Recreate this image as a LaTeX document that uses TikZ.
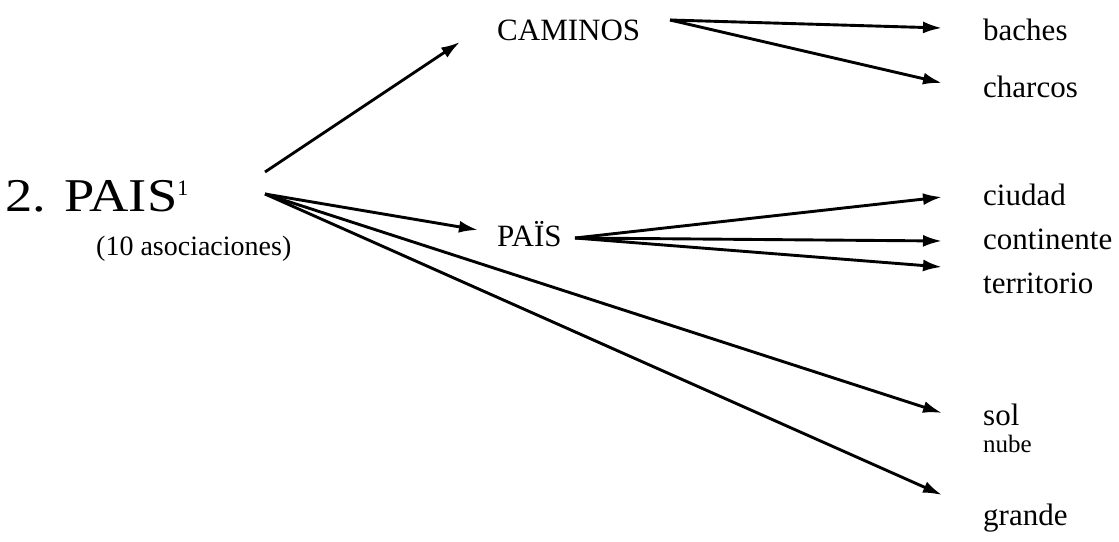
\documentclass[tikz,border=0pt]{standalone}
\usepackage{fontspec}
\setmainfont{Liberation Serif}
\usetikzlibrary{arrows.meta}
\begin{document}
\begin{tikzpicture}[x=1pt,y=-1pt,
  lbl/.style={anchor=base west,inner sep=0pt,font=\fontsize{31}{31}\selectfont},
  small/.style={anchor=base west,inner sep=0pt,font=\fontsize{25}{25}\selectfont},
  arr/.style={line width=2.9pt,-{Latex[length=19pt,width=12pt]}}]
\useasboundingbox (0,0) rectangle (1119,541);
% nodes
\node[anchor=base west,inner sep=0pt,font=\fontsize{47}{47}\selectfont] (pais) at (5,211)
  {\scalebox{1.16}[1]{2. PAIS}{\fontsize{22}{22}\selectfont\raisebox{16pt}{1}}};
\node[anchor=base west,inner sep=0pt,font=\fontsize{28}{28}\selectfont] (asoc) at (96,255) {(10 asociaciones)};
\node[lbl] (caminos) at (497,40) {CAMINOS};
\node[lbl] (pais2) at (497,246) {PAÏS};
\node[lbl] (baches) at (983,40) {baches};
\node[lbl] (charcos) at (983,97) {charcos};
\node[lbl] (ciudad) at (983,205) {ciudad};
\node[lbl] (continente) at (983,249) {continente};
\node[lbl] (territorio) at (983,293) {territorio};
\node[lbl] (sol) at (983,425) {sol};
\node[small] (nube) at (983,452) {nube};
\node[lbl] (grande) at (983,525) {grande};
% fan origins and tips
\coordinate (s1) at (265,172);
\coordinate (s2) at (265,194);
\coordinate (s3) at (670,20);
\coordinate (s4) at (575,238);
\coordinate (tcam) at (460,42);
\coordinate (tpais) at (478,230);
\coordinate (tbach) at (942,28);
\coordinate (tchar) at (942,83);
\coordinate (tciu) at (942,197);
\coordinate (tcon) at (942,241);
\coordinate (tter) at (942,267);
\coordinate (tsol) at (942,413);
\coordinate (tgra) at (942,495);
% connectors
\draw[arr] (s1) -- (tcam);
\draw[arr] (s2) -- (tpais);
\draw[arr] (s2) -- (tsol);
\draw[arr] (s2) -- (tgra);
\draw[arr] (s3) -- (tbach);
\draw[arr] (s3) -- (tchar);
\draw[arr] (s4) -- (tciu);
\draw[arr] (s4) -- (tcon);
\draw[arr] (s4) -- (tter);
\end{tikzpicture}
\end{document}
